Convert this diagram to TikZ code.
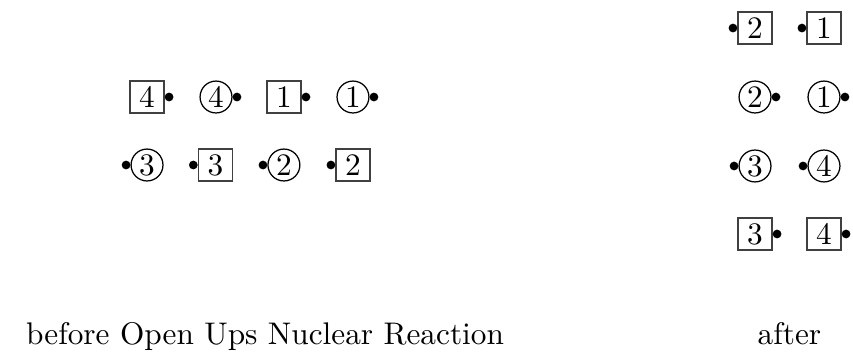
\documentclass[tikz,border=0pt]{standalone}
\usepackage{tikz}
\usetikzlibrary{positioning}

\begin{document}
\begin{tikzpicture}[
  sq/.style={draw=black!75, minimum width=10.9pt, minimum height=10.2pt,
             inner sep=0pt},
  rnd/.style={draw, circle, minimum size=10.2pt, inner sep=0pt},
  dot/.style={fill, circle, minimum size=2.8pt, inner sep=0pt, outer sep=0pt},
  lbl/.style={font=\normalsize}
]
\useasboundingbox (0,0) rectangle (9.584,-3.966);

% before: upper row
\node[sq]  (q4) at (1.652,-1.09) {4};
\node[rnd] (c4) at (2.427,-1.09) {4};
\node[sq]  (q1) at (3.19,-1.09)  {1};
\node[rnd] (c1) at (3.966,-1.09) {1};
\node[dot, right=0pt of q4] (q4d) {};
\node[dot, right=0pt of c4] (c4d) {};
\node[dot, right=0pt of q1] (q1d) {};
\node[dot, right=0pt of c1] (c1d) {};

% before: lower row
\node[rnd] (c3) at (1.652,-1.854) {3};
\node[sq]  (q3) at (2.42,-1.854)  {3};
\node[rnd] (c2) at (3.19,-1.854)  {2};
\node[sq]  (q2) at (3.966,-1.854) {2};
\node[dot, left=0pt of c3] (c3d) {};
\node[dot, left=0pt of q3] (q3d) {};
\node[dot, left=0pt of c2] (c2d) {};
\node[dot, left=0pt of q2] (q2d) {};

% after
\node[sq]  (aq2) at (8.483,-0.315) {2};
\node[sq]  (aq1) at (9.258,-0.315) {1};
\node[rnd] (ac2) at (8.483,-1.09)  {2};
\node[rnd] (ac1) at (9.258,-1.09)  {1};
\node[rnd] (ac3) at (8.483,-1.865) {3};
\node[rnd] (ac4) at (9.258,-1.865) {4};
\node[sq]  (aq3) at (8.483,-2.629) {3};
\node[sq]  (aq4) at (9.258,-2.629) {4};
\node[dot, left=0pt of aq2]  (aq2d) {};
\node[dot, left=0pt of aq1]  (aq1d) {};
\node[dot, right=0pt of ac2] (ac2d) {};
\node[dot, right=0pt of ac1] (ac1d) {};
\node[dot, left=0pt of ac3]  (ac3d) {};
\node[dot, left=0pt of ac4]  (ac4d) {};
\node[dot, right=0pt of aq3] (aq3d) {};
\node[dot, right=0pt of aq4] (aq4d) {};

\node[lbl, anchor=base west] (bef) at (0.169,-3.876) {before Open Ups Nuclear Reaction};
\node[lbl, anchor=base] (aft) at (8.87,-3.876) {after};
\end{tikzpicture}
\end{document}
